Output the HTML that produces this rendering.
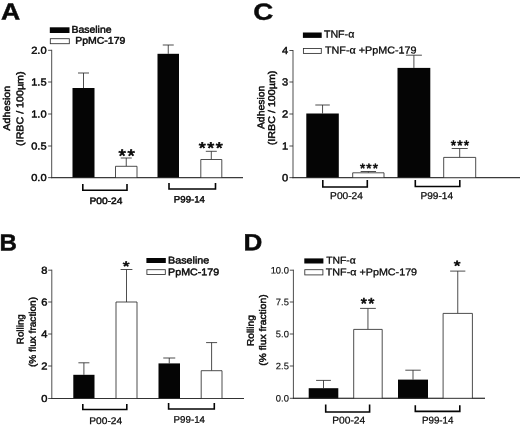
<!DOCTYPE html>
<html><head><meta charset="utf-8"><title>Figure</title>
<style>
html,body{margin:0;padding:0;background:#fff;}
svg{display:block;}
text{font-family:"Liberation Sans",sans-serif;fill:#0a0a0a;stroke:#0a0a0a;stroke-width:0.45px;}
</style></head><body>
<svg width="520" height="426" viewBox="0 0 520 426">
<rect width="520" height="426" fill="#fff"/>
<text transform="translate(0.9 19.4) rotate(0.03)" font-size="23.3" text-anchor="start" font-weight="bold" textLength="19.2" lengthAdjust="spacingAndGlyphs">A</text>
<rect x="49.8" y="27.3" width="19.70" height="5.70" fill="#050505"/>
<rect x="50.3" y="38.7" width="19.00" height="5.00" fill="#fff" stroke="#2e2e2e" stroke-width="0.85"/>
<text transform="translate(71.4 32.8) rotate(0.03)" font-size="9.7" text-anchor="start" font-weight="normal" textLength="40.2" lengthAdjust="spacingAndGlyphs">Baseline</text>
<text transform="translate(75.2 43.8) rotate(0.03)" font-size="9.7" text-anchor="start" font-weight="normal" textLength="50.2" lengthAdjust="spacingAndGlyphs">PpMC-179</text>
<line x1="51.7" y1="49.8" x2="51.7" y2="178.15" stroke="#2e2e2e" stroke-width="0.85"/>
<line x1="51.2" y1="177.65" x2="243" y2="177.65" stroke="#2e2e2e" stroke-width="0.85"/>
<line x1="48.1" y1="50.3" x2="51.7" y2="50.3" stroke="#2e2e2e" stroke-width="0.85"/>
<text transform="translate(46.6 53.7658) rotate(0.03)" font-size="10.1" text-anchor="end" font-weight="normal" textLength="15.4" lengthAdjust="spacingAndGlyphs">2.0</text>
<line x1="48.1" y1="82" x2="51.7" y2="82" stroke="#2e2e2e" stroke-width="0.85"/>
<text transform="translate(46.6 85.46579999999999) rotate(0.03)" font-size="10.1" text-anchor="end" font-weight="normal" textLength="15.4" lengthAdjust="spacingAndGlyphs">1.5</text>
<line x1="48.1" y1="114" x2="51.7" y2="114" stroke="#2e2e2e" stroke-width="0.85"/>
<text transform="translate(46.6 117.46579999999999) rotate(0.03)" font-size="10.1" text-anchor="end" font-weight="normal" textLength="15.4" lengthAdjust="spacingAndGlyphs">1.0</text>
<line x1="48.1" y1="146" x2="51.7" y2="146" stroke="#2e2e2e" stroke-width="0.85"/>
<text transform="translate(46.6 149.4658) rotate(0.03)" font-size="10.1" text-anchor="end" font-weight="normal" textLength="15.4" lengthAdjust="spacingAndGlyphs">0.5</text>
<line x1="48.1" y1="177.65" x2="51.7" y2="177.65" stroke="#2e2e2e" stroke-width="0.85"/>
<text transform="translate(46.6 181.1158) rotate(0.03)" font-size="10.1" text-anchor="end" font-weight="normal" textLength="15.4" lengthAdjust="spacingAndGlyphs">0.0</text>
<text transform="translate(9.9 108.2) rotate(-89.97)" font-size="9.8" text-anchor="middle" textLength="45" lengthAdjust="spacingAndGlyphs">Adhesion</text>
<text transform="translate(23.2 108.7) rotate(-89.97)" font-size="9.8" text-anchor="middle" textLength="74.4" lengthAdjust="spacingAndGlyphs">(IRBC / 100µm)</text>
<line x1="83.5" y1="73" x2="83.5" y2="88" stroke="#2e2e2e" stroke-width="0.85"/>
<line x1="78.0" y1="73" x2="89.0" y2="73" stroke="#2e2e2e" stroke-width="0.85"/>
<rect x="72.5" y="88" width="22.00" height="89.90" fill="#050505"/>
<line x1="126.25" y1="158" x2="126.25" y2="166.3" stroke="#2e2e2e" stroke-width="0.85"/>
<line x1="120.75" y1="158" x2="131.75" y2="158" stroke="#2e2e2e" stroke-width="0.85"/>
<path d="M115.50 177.9V166.3H137.00V177.9" fill="#fff" stroke="#2e2e2e" stroke-width="0.85"/>
<line x1="168.25" y1="45" x2="168.25" y2="53.8" stroke="#2e2e2e" stroke-width="0.85"/>
<line x1="162.75" y1="45" x2="173.75" y2="45" stroke="#2e2e2e" stroke-width="0.85"/>
<rect x="157.5" y="53.8" width="21.50" height="124.10" fill="#050505"/>
<line x1="211.3" y1="151.3" x2="211.3" y2="159.5" stroke="#2e2e2e" stroke-width="0.85"/>
<line x1="205.8" y1="151.3" x2="216.8" y2="151.3" stroke="#2e2e2e" stroke-width="0.85"/>
<path d="M200.80 177.9V159.5H221.80V177.9" fill="#fff" stroke="#2e2e2e" stroke-width="0.85"/>
<line x1="51.3" y1="177.65" x2="243" y2="177.65" stroke="#2e2e2e" stroke-width="0.9"/>
<text transform="translate(118.55 161.73) rotate(0.03) scale(0.934 0.889)" font-size="20.0" style="stroke-width:0.9px">*</text>
<text transform="translate(127.39 161.73) rotate(0.03) scale(0.934 0.889)" font-size="20.0" style="stroke-width:0.9px">*</text>
<text transform="translate(198.75 153.21) rotate(0.03) scale(0.902 0.790)" font-size="20.0" style="stroke-width:0.9px">*</text>
<text transform="translate(207.29 153.21) rotate(0.03) scale(0.902 0.790)" font-size="20.0" style="stroke-width:0.9px">*</text>
<text transform="translate(215.83 153.21) rotate(0.03) scale(0.902 0.790)" font-size="20.0" style="stroke-width:0.9px">*</text>
<path d="M82.8 183.9V190.2H127V183.9" fill="none" stroke="#050505" stroke-width="1.6"/>
<path d="M169 183V189H215.5V183" fill="none" stroke="#050505" stroke-width="1.6"/>
<text transform="translate(89.5 204) rotate(0.03)" font-size="9.3" text-anchor="start" font-weight="normal" textLength="33" lengthAdjust="spacingAndGlyphs">P00-24</text>
<text transform="translate(173.8 202.6) rotate(0.03)" font-size="9.3" text-anchor="start" font-weight="normal" textLength="31.2" lengthAdjust="spacingAndGlyphs">P99-14</text>
<text transform="translate(253.2 19.8) rotate(0.03)" font-size="23.3" text-anchor="start" font-weight="bold" textLength="20" lengthAdjust="spacingAndGlyphs">C</text>
<rect x="302.9" y="32.5" width="18.80" height="5.40" fill="#050505"/>
<rect x="303.4" y="48.5" width="17.90" height="4.90" fill="#fff" stroke="#2e2e2e" stroke-width="0.85"/>
<text transform="translate(323.9 37.6) rotate(0.03)" font-size="10.2" text-anchor="start" font-weight="normal" textLength="30.4" lengthAdjust="spacingAndGlyphs" style="stroke-width:0.3px">TNF-α</text>
<text transform="translate(325 53.4) rotate(0.03)" font-size="10.1" text-anchor="start" font-weight="normal" textLength="91.5" lengthAdjust="spacingAndGlyphs" style="stroke-width:0.3px">TNF-α +PpMC-179</text>
<line x1="293" y1="50.0" x2="293" y2="178.15" stroke="#2e2e2e" stroke-width="0.85"/>
<line x1="292.5" y1="177.65" x2="520" y2="177.65" stroke="#2e2e2e" stroke-width="0.85"/>
<line x1="289.4" y1="50.5" x2="293" y2="50.5" stroke="#2e2e2e" stroke-width="0.85"/>
<text transform="translate(288.3 54.0374) rotate(0.03)" font-size="10.3" text-anchor="end" font-weight="normal" textLength="6.2" lengthAdjust="spacingAndGlyphs">4</text>
<line x1="289.4" y1="82" x2="293" y2="82" stroke="#2e2e2e" stroke-width="0.85"/>
<text transform="translate(288.3 85.53739999999999) rotate(0.03)" font-size="10.3" text-anchor="end" font-weight="normal" textLength="6.2" lengthAdjust="spacingAndGlyphs">3</text>
<line x1="289.4" y1="114" x2="293" y2="114" stroke="#2e2e2e" stroke-width="0.85"/>
<text transform="translate(288.3 117.53739999999999) rotate(0.03)" font-size="10.3" text-anchor="end" font-weight="normal" textLength="6.2" lengthAdjust="spacingAndGlyphs">2</text>
<line x1="289.4" y1="146" x2="293" y2="146" stroke="#2e2e2e" stroke-width="0.85"/>
<text transform="translate(288.3 149.5374) rotate(0.03)" font-size="10.3" text-anchor="end" font-weight="normal" textLength="6.2" lengthAdjust="spacingAndGlyphs">1</text>
<line x1="289.4" y1="177.65" x2="293" y2="177.65" stroke="#2e2e2e" stroke-width="0.85"/>
<text transform="translate(288.3 181.1874) rotate(0.03)" font-size="10.3" text-anchor="end" font-weight="normal" textLength="6.2" lengthAdjust="spacingAndGlyphs">0</text>
<text transform="translate(264.2 107.4) rotate(-89.97)" font-size="9.8" text-anchor="middle" textLength="43.4" lengthAdjust="spacingAndGlyphs">Adhesion</text>
<text transform="translate(274.9 107.9) rotate(-89.97)" font-size="9.8" text-anchor="middle" textLength="74.6" lengthAdjust="spacingAndGlyphs">(IRBC / 100µm)</text>
<line x1="322.55" y1="105" x2="322.55" y2="113.5" stroke="#2e2e2e" stroke-width="0.85"/>
<line x1="315.3" y1="105" x2="329.8" y2="105" stroke="#2e2e2e" stroke-width="0.85"/>
<rect x="306.3" y="113.5" width="32.50" height="64.40" fill="#050505"/>
<line x1="368.35" y1="171.5" x2="368.35" y2="172.8" stroke="#2e2e2e" stroke-width="0.85"/>
<line x1="360.65000000000003" y1="171.5" x2="376.05" y2="171.5" stroke="#2e2e2e" stroke-width="0.85"/>
<path d="M352.70 177.9V172.8H384.00V177.9" fill="#fff" stroke="#2e2e2e" stroke-width="0.85"/>
<line x1="413.9" y1="55.2" x2="413.9" y2="67.9" stroke="#2e2e2e" stroke-width="0.85"/>
<line x1="405.9" y1="55.2" x2="421.9" y2="55.2" stroke="#2e2e2e" stroke-width="0.85"/>
<rect x="397.5" y="67.9" width="32.80" height="110.00" fill="#050505"/>
<line x1="459.7" y1="148.5" x2="459.7" y2="157.4" stroke="#2e2e2e" stroke-width="0.85"/>
<line x1="451.7" y1="148.5" x2="467.7" y2="148.5" stroke="#2e2e2e" stroke-width="0.85"/>
<path d="M443.70 177.9V157.4H475.70V177.9" fill="#fff" stroke="#2e2e2e" stroke-width="0.85"/>
<line x1="292.6" y1="177.65" x2="520" y2="177.65" stroke="#2e2e2e" stroke-width="0.9"/>
<text transform="translate(359.97 172.67) rotate(0.03) scale(0.672 0.654)" font-size="20.0" style="stroke-width:0.9px">*</text>
<text transform="translate(366.32 172.67) rotate(0.03) scale(0.672 0.654)" font-size="20.0" style="stroke-width:0.9px">*</text>
<text transform="translate(372.68 172.67) rotate(0.03) scale(0.672 0.654)" font-size="20.0" style="stroke-width:0.9px">*</text>
<text transform="translate(450.87 149.92) rotate(0.03) scale(0.687 0.679)" font-size="20.0" style="stroke-width:0.9px">*</text>
<text transform="translate(457.37 149.92) rotate(0.03) scale(0.687 0.679)" font-size="20.0" style="stroke-width:0.9px">*</text>
<text transform="translate(463.87 149.92) rotate(0.03) scale(0.687 0.679)" font-size="20.0" style="stroke-width:0.9px">*</text>
<path d="M322.8 180V187H367.3V180" fill="none" stroke="#050505" stroke-width="1.6"/>
<path d="M415.3 180V186.5H459.8V180" fill="none" stroke="#050505" stroke-width="1.6"/>
<text transform="translate(330.1 199.0) rotate(0.03)" font-size="9.8" text-anchor="start" font-weight="normal" textLength="32.8" lengthAdjust="spacingAndGlyphs" style="stroke-width:0.25px">P00-24</text>
<text transform="translate(420.5 199.0) rotate(0.03)" font-size="9.8" text-anchor="start" font-weight="normal" textLength="32.6" lengthAdjust="spacingAndGlyphs" style="stroke-width:0.25px">P99-14</text>
<text transform="translate(-0.4 250.5) rotate(0.03)" font-size="23.3" text-anchor="start" font-weight="bold" textLength="17.4" lengthAdjust="spacingAndGlyphs">B</text>
<line x1="51.8" y1="269.7" x2="51.8" y2="399.0" stroke="#2e2e2e" stroke-width="0.85"/>
<line x1="51.3" y1="398.5" x2="244" y2="398.5" stroke="#2e2e2e" stroke-width="0.85"/>
<line x1="48.199999999999996" y1="270.2" x2="51.8" y2="270.2" stroke="#2e2e2e" stroke-width="0.85"/>
<text transform="translate(47.4 273.6658) rotate(0.03)" font-size="10.1" text-anchor="end" font-weight="normal" textLength="6.2" lengthAdjust="spacingAndGlyphs">8</text>
<line x1="48.199999999999996" y1="302" x2="51.8" y2="302" stroke="#2e2e2e" stroke-width="0.85"/>
<text transform="translate(47.4 305.4658) rotate(0.03)" font-size="10.1" text-anchor="end" font-weight="normal" textLength="6.2" lengthAdjust="spacingAndGlyphs">6</text>
<line x1="48.199999999999996" y1="334" x2="51.8" y2="334" stroke="#2e2e2e" stroke-width="0.85"/>
<text transform="translate(47.4 337.4658) rotate(0.03)" font-size="10.1" text-anchor="end" font-weight="normal" textLength="6.2" lengthAdjust="spacingAndGlyphs">4</text>
<line x1="48.199999999999996" y1="366" x2="51.8" y2="366" stroke="#2e2e2e" stroke-width="0.85"/>
<text transform="translate(47.4 369.4658) rotate(0.03)" font-size="10.1" text-anchor="end" font-weight="normal" textLength="6.2" lengthAdjust="spacingAndGlyphs">2</text>
<line x1="48.199999999999996" y1="398.5" x2="51.8" y2="398.5" stroke="#2e2e2e" stroke-width="0.85"/>
<text transform="translate(47.4 401.9658) rotate(0.03)" font-size="10.1" text-anchor="end" font-weight="normal" textLength="6.2" lengthAdjust="spacingAndGlyphs">0</text>
<text transform="translate(23.6 329.2) rotate(-89.97)" font-size="9.6" text-anchor="middle" textLength="30" lengthAdjust="spacingAndGlyphs">Rolling</text>
<text transform="translate(35.8 332) rotate(-89.97)" font-size="9.6" text-anchor="middle" textLength="70" lengthAdjust="spacingAndGlyphs">(% flux fraction)</text>
<line x1="83.9" y1="362.8" x2="83.9" y2="374.8" stroke="#2e2e2e" stroke-width="0.85"/>
<line x1="78.4" y1="362.8" x2="89.4" y2="362.8" stroke="#2e2e2e" stroke-width="0.85"/>
<rect x="73.3" y="374.8" width="21.20" height="23.90" fill="#050505"/>
<line x1="126.5" y1="269.5" x2="126.5" y2="302" stroke="#2e2e2e" stroke-width="0.85"/>
<line x1="120.6" y1="269.5" x2="132.4" y2="269.5" stroke="#2e2e2e" stroke-width="0.85"/>
<path d="M116.00 398.7V302H137.00V398.7" fill="#fff" stroke="#2e2e2e" stroke-width="0.85"/>
<line x1="169.25" y1="358" x2="169.25" y2="363.4" stroke="#2e2e2e" stroke-width="0.85"/>
<line x1="163.25" y1="358" x2="175.25" y2="358" stroke="#2e2e2e" stroke-width="0.85"/>
<rect x="158.5" y="363.4" width="21.50" height="35.30" fill="#050505"/>
<line x1="211.6" y1="342.6" x2="211.6" y2="370.7" stroke="#2e2e2e" stroke-width="0.85"/>
<line x1="206.1" y1="342.6" x2="217.1" y2="342.6" stroke="#2e2e2e" stroke-width="0.85"/>
<path d="M201.20 398.7V370.7H222.00V398.7" fill="#fff" stroke="#2e2e2e" stroke-width="0.85"/>
<line x1="51.4" y1="398.5" x2="244" y2="398.5" stroke="#2e2e2e" stroke-width="0.9"/>
<text transform="translate(122.86 270.75) rotate(0.03) scale(0.872 0.667)" font-size="20.0" style="stroke-width:0.9px">*</text>
<rect x="146.4" y="258" width="19.40" height="5.00" fill="#050505"/>
<rect x="146.9" y="269.7" width="18.40" height="4.80" fill="#fff" stroke="#2e2e2e" stroke-width="0.85"/>
<text transform="translate(168.1 263.5) rotate(0.03)" font-size="9.7" text-anchor="start" font-weight="normal" textLength="41.2" lengthAdjust="spacingAndGlyphs">Baseline</text>
<text transform="translate(168.1 275.2) rotate(0.03)" font-size="9.7" text-anchor="start" font-weight="normal" textLength="51" lengthAdjust="spacingAndGlyphs">PpMC-179</text>
<path d="M82.8 404V409.5H126.8V404" fill="none" stroke="#050505" stroke-width="1.6"/>
<path d="M168.6 403V409H214.3V403" fill="none" stroke="#050505" stroke-width="1.6"/>
<text transform="translate(89.3 424) rotate(0.03)" font-size="9.6" text-anchor="start" font-weight="normal" textLength="32.8" lengthAdjust="spacingAndGlyphs" style="stroke-width:0.25px">P00-24</text>
<text transform="translate(173.6 422.7) rotate(0.03)" font-size="9.6" text-anchor="start" font-weight="normal" textLength="31.4" lengthAdjust="spacingAndGlyphs" style="stroke-width:0.25px">P99-14</text>
<text transform="translate(243.6 250.3) rotate(0.03)" font-size="23.3" text-anchor="start" font-weight="bold" textLength="18.8" lengthAdjust="spacingAndGlyphs">D</text>
<rect x="304.3" y="258.4" width="19.10" height="5.10" fill="#050505"/>
<rect x="304.8" y="269.7" width="18.10" height="5.20" fill="#fff" stroke="#2e2e2e" stroke-width="0.85"/>
<text transform="translate(326.2 263.5) rotate(0.03)" font-size="9.7" text-anchor="start" font-weight="normal" textLength="29.6" lengthAdjust="spacingAndGlyphs" style="stroke-width:0.3px">TNF-α</text>
<text transform="translate(325.8 275.3) rotate(0.03)" font-size="9.7" text-anchor="start" font-weight="normal" textLength="91.3" lengthAdjust="spacingAndGlyphs" style="stroke-width:0.3px">TNF-α +PpMC-179</text>
<line x1="293.4" y1="269.7" x2="293.4" y2="398.8" stroke="#2e2e2e" stroke-width="0.85"/>
<line x1="292.9" y1="398.3" x2="485" y2="398.3" stroke="#2e2e2e" stroke-width="0.85"/>
<line x1="289.79999999999995" y1="270.2" x2="293.4" y2="270.2" stroke="#2e2e2e" stroke-width="0.85"/>
<text transform="translate(288.9 273.4152) rotate(0.03)" font-size="9.4" text-anchor="end" font-weight="normal" style="stroke-width:0.15px">10.0</text>
<line x1="289.79999999999995" y1="302" x2="293.4" y2="302" stroke="#2e2e2e" stroke-width="0.85"/>
<text transform="translate(288.9 305.21520000000004) rotate(0.03)" font-size="9.4" text-anchor="end" font-weight="normal" style="stroke-width:0.15px">7.5</text>
<line x1="289.79999999999995" y1="334" x2="293.4" y2="334" stroke="#2e2e2e" stroke-width="0.85"/>
<text transform="translate(288.9 337.21520000000004) rotate(0.03)" font-size="9.4" text-anchor="end" font-weight="normal" style="stroke-width:0.15px">5.0</text>
<line x1="289.79999999999995" y1="366" x2="293.4" y2="366" stroke="#2e2e2e" stroke-width="0.85"/>
<text transform="translate(288.9 369.21520000000004) rotate(0.03)" font-size="9.4" text-anchor="end" font-weight="normal" style="stroke-width:0.15px">2.5</text>
<line x1="289.79999999999995" y1="398.3" x2="293.4" y2="398.3" stroke="#2e2e2e" stroke-width="0.85"/>
<text transform="translate(288.9 401.51520000000005) rotate(0.03)" font-size="9.4" text-anchor="end" font-weight="normal" style="stroke-width:0.15px">0.0</text>
<text transform="translate(253.7 330.6) rotate(-89.97)" font-size="9.6" text-anchor="middle" textLength="30.9" lengthAdjust="spacingAndGlyphs">Rolling</text>
<text transform="translate(266 330.1) rotate(-89.97)" font-size="9.6" text-anchor="middle" textLength="71.3" lengthAdjust="spacingAndGlyphs">(% flux fraction)</text>
<line x1="323.5" y1="380.4" x2="323.5" y2="388.2" stroke="#2e2e2e" stroke-width="0.85"/>
<line x1="316.1" y1="380.4" x2="330.9" y2="380.4" stroke="#2e2e2e" stroke-width="0.85"/>
<rect x="308.7" y="388.2" width="29.60" height="10.40" fill="#050505"/>
<line x1="367.95" y1="308.4" x2="367.95" y2="329.4" stroke="#2e2e2e" stroke-width="0.85"/>
<line x1="360.05" y1="308.4" x2="375.84999999999997" y2="308.4" stroke="#2e2e2e" stroke-width="0.85"/>
<path d="M353.70 398.6V329.4H382.20V398.6" fill="#fff" stroke="#2e2e2e" stroke-width="0.85"/>
<line x1="413.0" y1="370.2" x2="413.0" y2="379.6" stroke="#2e2e2e" stroke-width="0.85"/>
<line x1="405.3" y1="370.2" x2="420.7" y2="370.2" stroke="#2e2e2e" stroke-width="0.85"/>
<rect x="398" y="379.6" width="30.00" height="19.00" fill="#050505"/>
<line x1="457.75" y1="271.1" x2="457.75" y2="313.4" stroke="#2e2e2e" stroke-width="0.85"/>
<line x1="450.15" y1="271.1" x2="465.35" y2="271.1" stroke="#2e2e2e" stroke-width="0.85"/>
<path d="M443.10 398.6V313.4H472.40V398.6" fill="#fff" stroke="#2e2e2e" stroke-width="0.85"/>
<line x1="293" y1="398.3" x2="485" y2="398.3" stroke="#2e2e2e" stroke-width="0.9"/>
<text transform="translate(360.76 308.58) rotate(0.03) scale(0.787 0.753)" font-size="20.0" style="stroke-width:0.9px">*</text>
<text transform="translate(368.21 308.58) rotate(0.03) scale(0.787 0.753)" font-size="20.0" style="stroke-width:0.9px">*</text>
<text transform="translate(453.76 270.58) rotate(0.03) scale(0.872 0.704)" font-size="20.0" style="stroke-width:0.9px">*</text>
<path d="M325.7 404.6V412H369.6V404.6" fill="none" stroke="#050505" stroke-width="1.6"/>
<path d="M415.3 405.2V411.4H459.8V405.2" fill="none" stroke="#050505" stroke-width="1.6"/>
<text transform="translate(332.2 423.4) rotate(0.03)" font-size="9.8" text-anchor="start" font-weight="normal" textLength="33" lengthAdjust="spacingAndGlyphs" style="stroke-width:0.25px">P00-24</text>
<text transform="translate(421.9 423.4) rotate(0.03)" font-size="9.8" text-anchor="start" font-weight="normal" textLength="31.6" lengthAdjust="spacingAndGlyphs" style="stroke-width:0.25px">P99-14</text>
</svg>
</body></html>
